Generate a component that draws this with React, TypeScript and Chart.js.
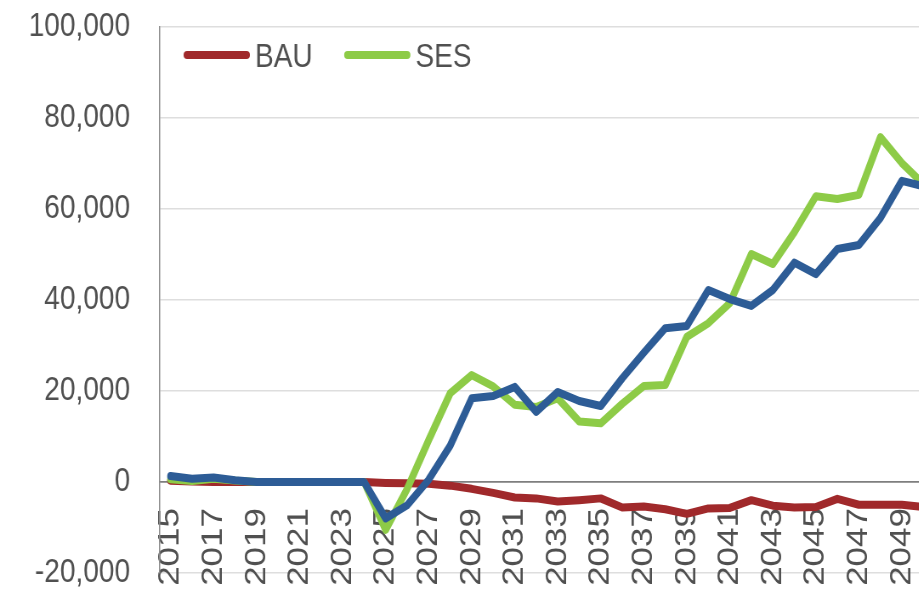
import React, { useEffect, useRef } from 'react';
import { Chart, registerables } from 'chart.js';

Chart.register(...registerables);

const years = [
  '2015', '2016', '2017', '2018', '2019', '2020', '2021', '2022', '2023', '2024',
  '2025', '2026', '2027', '2028', '2029', '2030', '2031', '2032', '2033', '2034',
  '2035', '2036', '2037', '2038', '2039', '2040', '2041', '2042', '2043', '2044',
  '2045', '2046', '2047', '2048', '2049', '2050',
];

const xTickLabels = [
  '2015', '2017', '2019', '2021', '2023', '2025', '2027', '2029', '2031',
  '2033', '2035', '2037', '2039', '2041', '2043', '2045', '2047', '2049',
];

const bauValues = [
  300, 100, 0, 0, 0, 0, 0, 0, 0, 0,
  -200, -300, -400, -800, -1500, -2400, -3400, -3600, -4300, -4000,
  -3600, -5600, -5400, -6000, -7000, -5800, -5700, -4000, -5200, -5600,
  -5500, -3700, -5000, -5000, -5000, -5500,
];

const sesValues = [
  600, 200, 700, 300, 0, 0, 0, 0, 0, 0,
  -10500, -1500, 9200, 19500, 23500, 21000, 17000, 16500, 18400, 13300,
  12900, 17200, 21100, 21300, 31900, 34900, 39300, 50100, 47900, 54900,
  62800, 62200, 63100, 75800, 70100, 65500,
];

const netValues = [
  1300, 700, 1000, 400, 0, 0, 0, 0, 0, 0,
  -8000, -5100, 500, 8000, 18400, 18900, 20900, 15400, 19800, 17800,
  16700, 22800, 28400, 33800, 34300, 42200, 40200, 38700, 42200, 48200,
  45700, 51200, 52100, 58000, 66200, 65000,
];

const seriesNames = ['BAU', 'SES', 'Net'];
const seriesColors = ['#A0292B', '#8DCB47', '#2D5C96'];
const legendSeries = ['BAU', 'SES'];

const yMin = -20000;
const yMax = 100000;
const yStep = 20000;

const textColor = '#505050';
const fontFamily = '"Liberation Sans", Arial, sans-serif';

// horizontal squeeze of the whole drawing (the reference is horizontally condensed)
const SQUEEZE = 0.85;
const CANVAS_W = 1120;
const CANVAS_H = 683;

const inlineLegend = {
  id: 'inlineLegend',
  afterDatasetsDraw(chart: any) {
    const ctx = chart.ctx;
    const area = chart.chartArea;
    let x = area.left + 32;
    const y = area.top + 28;
    ctx.save();
    ctx.font = `33px ${fontFamily}`;
    ctx.textBaseline = 'alphabetic';
    ctx.textAlign = 'left';
    chart.data.datasets.forEach((ds: any) => {
      if (!legendSeries.includes(ds.label)) return;
      ctx.strokeStyle = ds.borderColor;
      ctx.lineWidth = 8;
      ctx.lineCap = 'round';
      ctx.beginPath();
      ctx.moveTo(x, y);
      ctx.lineTo(x + 70, y);
      ctx.stroke();
      ctx.fillStyle = textColor;
      ctx.fillText(ds.label, x + 80, y + 12);
      x += 80 + ctx.measureText(ds.label).width + 41;
    });
    ctx.restore();
  },
};

export default function App() {
  const canvasRef = useRef<HTMLCanvasElement | null>(null);

  useEffect(() => {
    const canvas = canvasRef.current;
    if (!canvas) return;
    const valuesList = [bauValues, sesValues, netValues];
    const chart = new Chart(canvas, {
      type: 'line',
      data: {
        labels: years,
        datasets: seriesNames.map((name, i) => ({
          label: name,
          data: valuesList[i],
          borderColor: seriesColors[i],
          backgroundColor: seriesColors[i],
          order: 3 - i,
        })),
      },
      options: {
        animation: false,
        responsive: false,
        layout: { padding: { top: 27, right: 21, left: 0, bottom: 110 } },
        plugins: {
          legend: { display: false },
          tooltip: { enabled: false },
        },
        elements: {
          point: { radius: 0, hoverRadius: 0 },
          line: {
            tension: 0,
            borderWidth: 8,
            borderCapStyle: 'round',
            borderJoinStyle: 'round',
          },
        },
        scales: {
          x: {
            type: 'category',
            position: { y: 0 },
            offset: true,
            grid: { display: false, drawTicks: false },
            border: { display: true, color: '#7f7f7f', width: 1.5 },
            ticks: {
              autoSkip: false,
              minRotation: 90,
              maxRotation: 90,
              padding: 26,
              color: textColor,
              font: { family: fontFamily, size: 35 },
              callback: (_v: any, i: number) =>
                xTickLabels.includes(years[i]) ? years[i] : '',
            },
            afterFit: (s: any) => {
              s.paddingLeft = 0;
              s.paddingRight = 0;
            },
          },
          y: {
            min: yMin,
            max: yMax,
            ticks: {
              stepSize: yStep,
              padding: 35,
              color: textColor,
              font: { family: fontFamily, size: 33 },
              callback: (v: any) => Number(v).toLocaleString('en-US'),
            },
            grid: {
              drawTicks: false,
              lineWidth: 1.5,
              color: (c: any) => (c.tick && c.tick.value === 0 ? '#7f7f7f' : '#dedede'),
            },
            border: { display: true, color: '#8c8c8c', width: 1.5 },
            afterFit: (s: any) => {
              s.width = 188;
              s.paddingTop = 0;
              s.paddingBottom = 0;
            },
          },
        },
      } as any,
      plugins: [inlineLegend],
    });
    return () => chart.destroy();
  }, []);

  return (
    <div
      style={{
        position: 'fixed',
        left: 0,
        top: 0,
        width: 919,
        height: 591,
        overflow: 'hidden',
        background: '#ffffff',
      }}
    >
      <canvas
        ref={canvasRef}
        width={CANVAS_W}
        height={CANVAS_H}
        style={{
          display: 'block',
          width: CANVAS_W,
          height: CANVAS_H,
          transform: `scaleX(${SQUEEZE})`,
          transformOrigin: '0 0',
        }}
      />
    </div>
  );
}
